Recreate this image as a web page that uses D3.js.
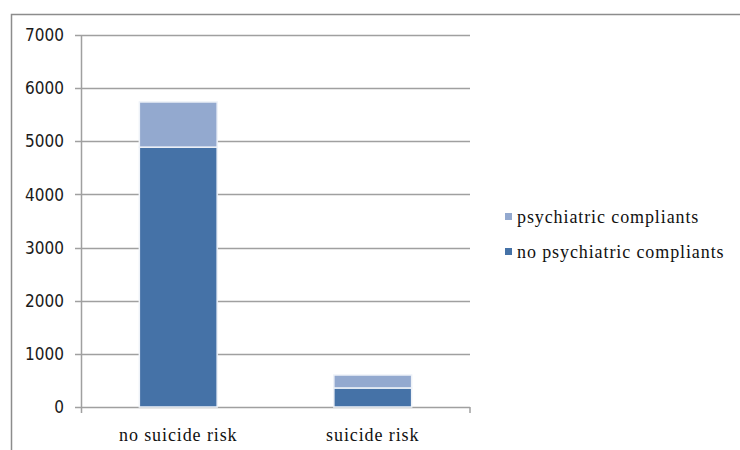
<!DOCTYPE html>
<html>
<head>
<meta charset="utf-8">
<script src="https://cdn.jsdelivr.net/npm/d3@7"></script>
<style>
  body { margin: 0; background: #fff; }
</style>
</head>
<body>
<div id="chart"></div>
<script>
const categories = ["no suicide risk", "suicide risk"];
const noPsych = [4890, 358];
const psych = [850, 244];
const seriesNames = ["no psychiatric compliants", "psychiatric compliants"];
const yTicks = [0, 1000, 2000, 3000, 4000, 5000, 6000, 7000];

const colors = { dark: "#4572a7", light: "#93a9cf" };

const svg = d3.select("#chart").append("svg")
    .attr("width", 740)
    .attr("height", 450);

// Outer frame
svg.append("rect")
    .attr("x", 11.5).attr("y", 14.5)
    .attr("width", 760).attr("height", 460)
    .attr("fill", "none")
    .attr("stroke", "#8c8c8c")
    .attr("stroke-width", 1.5);

const margin = { left: 81, top: 35, right: 470, bottom: 407 };

const x = d3.scaleBand()
    .domain(categories)
    .range([margin.left, margin.right])
    .paddingInner(0.6)
    .paddingOuter(0.3);

const y = d3.scaleLinear()
    .domain([0, 7000])
    .range([margin.bottom, margin.top]);

// Gridlines
svg.append("g")
    .selectAll("line")
    .data(yTicks)
    .enter().append("line")
    .attr("x1", margin.left - 6)
    .attr("x2", margin.right)
    .attr("y1", d => Math.round(y(d)) + 0.5)
    .attr("y2", d => Math.round(y(d)) + 0.5)
    .attr("stroke", "#a0a0a0")
    .attr("stroke-width", 1.5);

// Y axis line
svg.append("line")
    .attr("x1", margin.left + 0.5).attr("x2", margin.left + 0.5)
    .attr("y1", margin.top).attr("y2", margin.bottom + 6)
    .attr("stroke", "#a0a0a0").attr("stroke-width", 1.5);

// Right tick on x axis
svg.append("line")
    .attr("x1", margin.right).attr("x2", margin.right)
    .attr("y1", margin.bottom).attr("y2", margin.bottom + 6)
    .attr("stroke", "#a0a0a0").attr("stroke-width", 1.5);

// Y tick labels
svg.append("g")
    .selectAll("text")
    .data(yTicks)
    .enter().append("text")
    .attr("x", 64)
    .attr("y", d => y(d))
    .attr("dy", "0.36em")
    .attr("text-anchor", "end")
    .style("font-family", "'DejaVu Sans Condensed', 'DejaVu Sans', sans-serif")
    .style("font-size", "17px")
    .style("fill", "#1a1a1a")
    .text(d => d);

// Stacked data
const rows = categories.map((c, i) => ({ cat: c, a: noPsych[i], b: psych[i] }));
const stack = d3.stack().keys(["a", "b"])(rows);
const fill = [colors.dark, colors.light];

const bars = svg.append("g");
stack.forEach((layer, li) => {
    bars.selectAll(null)
        .data(layer)
        .enter().append("rect")
        .attr("x", d => x(d.data.cat))
        .attr("width", x.bandwidth())
        .attr("y", d => y(d[1]))
        .attr("height", d => y(d[0]) - y(d[1]))
        .attr("fill", fill[li])
        .attr("stroke", "#eef2f8")
        .attr("stroke-width", 1.5);
});

// Category labels
svg.append("g")
    .selectAll("text")
    .data(categories)
    .enter().append("text")
    .attr("x", d => x(d) + x.bandwidth() / 2)
    .attr("y", 441)
    .attr("text-anchor", "middle")
    .style("font-family", "'Liberation Serif', serif")
    .style("font-size", "18px")
    .style("letter-spacing", "0.9px")
    .style("fill", "#111")
    .text(d => d);

// Legend (top item is the upper stack)
const legendItems = [
    { name: seriesNames[1], color: colors.light },
    { name: seriesNames[0], color: colors.dark }
];
const legend = svg.append("g");
legendItems.forEach((d, i) => {
    const ly = 217 + i * 35;
    legend.append("rect")
        .attr("x", 505).attr("y", ly - 4)
        .attr("width", 7).attr("height", 7)
        .attr("fill", d.color);
    legend.append("text")
        .attr("x", 517).attr("y", ly)
        .attr("dy", "0.35em")
        .style("font-family", "'Liberation Serif', serif")
        .style("font-size", "18px")
        .style("letter-spacing", "0.9px")
        .style("fill", "#111")
        .text(d.name);
});
</script>
</body>
</html>
